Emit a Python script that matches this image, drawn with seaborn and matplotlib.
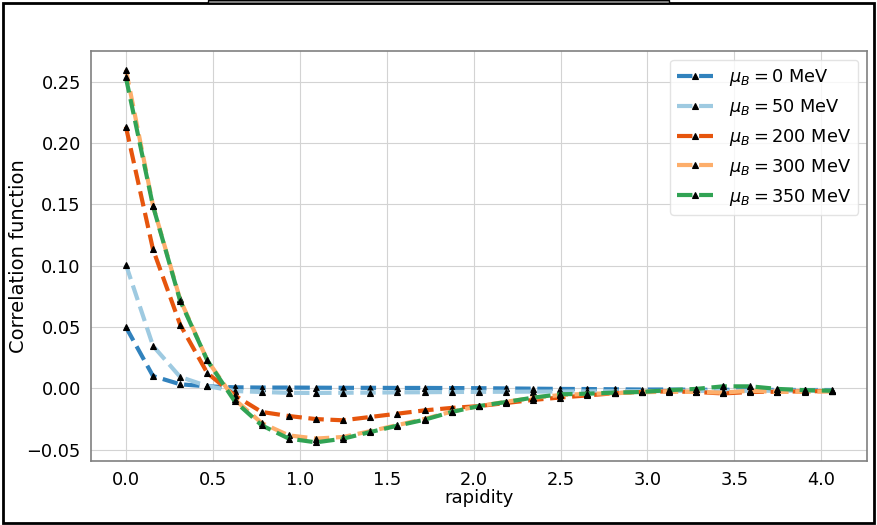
import matplotlib
matplotlib.use("Agg")
import matplotlib.pyplot as plt
import seaborn as sns
import pandas as pd
from matplotlib.patches import Rectangle

rapidity = [0.0, 0.156, 0.312, 0.468, 0.625, 0.781, 0.937, 1.093, 1.249, 1.405,
            1.562, 1.718, 1.874, 2.030, 2.186, 2.342, 2.498, 2.655, 2.811, 2.967,
            3.123, 3.279, 3.435, 3.592, 3.748, 3.904, 4.060]

mu0 = [0.050, 0.010, 0.0033, 0.0016, 0.0008, 0.0006, 0.0006, 0.0005, 0.0004, 0.0004,
       0.0003, 0.0003, 0.0002, 0.0001, -0.0001, -0.0003, -0.0005, -0.0006, -0.0008, -0.0010,
       -0.0010, -0.0012, -0.0012, -0.0013, -0.0013, -0.0014, -0.0014]
mu50 = [0.101, 0.0346, 0.0093, 0.0018, -0.0022, -0.0030, -0.0037, -0.0038, -0.0036, -0.0035,
        -0.0033, -0.0032, -0.0030, -0.0029, -0.0028, -0.0027, -0.0026, -0.0025, -0.0024, -0.0023,
        -0.0022, -0.0021, -0.0021, -0.0020, -0.0020, -0.0019, -0.0019]
mu200 = [0.2135, 0.1133, 0.052, 0.0125, -0.0057, -0.0193, -0.0226, -0.0251, -0.0261, -0.0234,
         -0.0207, -0.018, -0.0160, -0.0145, -0.0120, -0.0095, -0.0075, -0.0058, -0.0040, -0.0030,
         -0.0025, -0.0030, -0.0042, -0.0030, -0.0028, -0.0025, -0.0022]
mu300 = [0.260, 0.149, 0.0725, 0.023, -0.009, -0.0283, -0.0384, -0.0410, -0.0397, -0.0350,
         -0.0300, -0.0250, -0.0190, -0.0145, -0.0110, -0.0078, -0.0055, -0.0045, -0.0040, -0.0032,
         -0.0028, -0.0030, -0.0035, -0.0020, -0.0030, -0.0028, -0.0025]
mu350 = [0.2536, 0.1487, 0.0715, 0.0229, -0.0104, -0.0302, -0.0410, -0.0441, -0.0411, -0.0357,
         -0.0305, -0.0256, -0.0193, -0.0145, -0.0112, -0.0076, -0.0049, -0.0044, -0.0035, -0.0030,
         -0.0015, -0.0005, 0.0016, 0.0016, -0.0005, -0.0015, -0.0020]

labels = [r"$\mu_B = 0$ MeV", r"$\mu_B = 50$ MeV", r"$\mu_B = 200$ MeV",
          r"$\mu_B = 300$ MeV", r"$\mu_B = 350$ MeV"]
series = [mu0, mu50, mu200, mu300, mu350]
colors = ["#3182bd", "#9ecae1", "#e6550d", "#fdae6b", "#31a354"]

sns.set_style("whitegrid")
plt.rcParams["font.family"] = ["DejaVu Sans"]
plt.rcParams["font.size"] = 12.5
plt.rcParams["text.color"] = "black"
plt.rcParams["axes.labelcolor"] = "black"
plt.rcParams["xtick.color"] = "black"
plt.rcParams["ytick.color"] = "black"

fig = plt.figure(figsize=(8.77, 5.25), dpi=100)
ax = fig.add_axes([0.1033, 0.1219, 0.8853, 0.781])

for lab, vals, col in zip(labels, series, colors):
    df = pd.DataFrame({"rapidity": rapidity, "corr": vals})
    sns.lineplot(data=df, x="rapidity", y="corr", ax=ax, color=col, linestyle="--",
                 linewidth=3, marker="^", markersize=4.5, markeredgecolor="black",
                 markerfacecolor="black", markeredgewidth=0.8, label=lab)

ax.set_xlabel("rapidity", fontsize=13, labelpad=0.5)
ax.set_ylabel("Correlation function", fontsize=14)
ax.yaxis.set_label_coords(-0.081, 0.5)
ax.set_xticks([0.0, 0.5, 1.0, 1.5, 2.0, 2.5, 3.0, 3.5, 4.0])
ax.set_yticks([-0.05, 0.0, 0.05, 0.10, 0.15, 0.20, 0.25])
ax.tick_params(labelsize=12.8, colors="black")
for t in ax.get_xticklabels() + ax.get_yticklabels():
    t.set_color("black")
ax.grid(True, color="#d3d3d3", linewidth=0.8)
for s in ax.spines.values():
    s.set_color("#808080")
    s.set_linewidth(1.2)

leg = ax.legend(loc="upper right", fontsize=12.8, frameon=True, framealpha=0.8,
                handletextpad=0.9)
leg.get_frame().set_edgecolor("#dddddd")
for t in leg.get_texts():
    t.set_color("black")

# figure border and top bar
fig.patches.append(Rectangle((0.003, 0.004), 0.994, 0.991, transform=fig.transFigure,
                             fill=False, edgecolor="black", linewidth=2))
fig.patches.append(Rectangle((208 / 877, 1 - 3 / 525), 461 / 877, 3 / 525,
                             transform=fig.transFigure, facecolor="#999999",
                             edgecolor="black", linewidth=1))

fig.savefig("out.png", dpi=100)
